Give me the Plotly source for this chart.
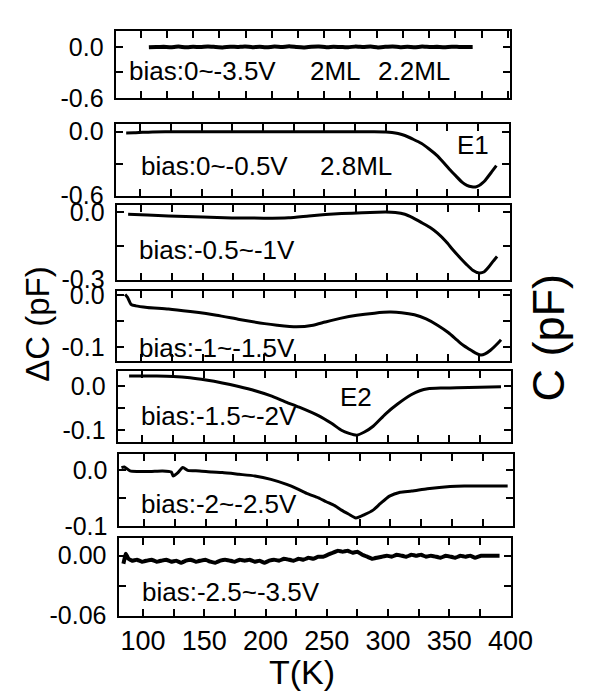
import plotly.graph_objects as go

W, H = 589, 694

# ---------------- data (T in K, dC in pF) ----------------
p1_T = [107, 113, 119, 125, 131, 137, 143, 149, 155, 161, 167, 173, 179, 185, 191, 197, 203, 209, 215, 221,
        227, 233, 239, 245, 251, 257, 263, 269, 275, 281, 287, 293, 299, 305, 311, 317, 323, 329, 335, 341,
        347, 353, 359, 365, 370]
p1_dC = [-0.005, -0.002, 0.0, -0.004, 0.003, -0.006, 0.001, -0.003, 0.004, -0.002, -0.007, 0.002, -0.001, 0.005,
         -0.004, 0.0, -0.006, 0.003, -0.002, 0.006, -0.003, -0.008, 0.001, 0.004, -0.005, 0.002, -0.001, -0.006,
         0.005, -0.002, 0.003, -0.007, 0.0, 0.004, -0.004, 0.001, -0.005, 0.003, -0.002, 0.0, -0.004, 0.002,
         -0.001, -0.003, -0.002]

p2_T = [88.6, 95, 102, 110, 130, 160, 200, 240, 270, 290, 300, 305, 310, 315.5, 322, 328.8, 335, 342, 347,
        352, 357, 362, 366, 370, 373, 376, 379, 381, 386, 390]
p2_dC = [-0.012, -0.011, -0.006, -0.002, 0.0, 0.0, 0.0, 0.0, 0.0, -0.001, -0.003, -0.008, -0.018, -0.036,
         -0.07, -0.109, -0.16, -0.227, -0.29, -0.355, -0.415, -0.473, -0.503, -0.517, -0.518, -0.505, -0.478,
         -0.455, -0.38, -0.318]

p3_T = [89.4, 105, 122.2, 150, 173.9, 200, 220, 236.5, 250, 263.1, 280, 299.1, 307, 314.7, 321, 328, 335,
        341.3, 348, 353.8, 360, 364.8, 370, 375, 379, 382.8, 386, 389.8]
p3_dC = [-0.01, -0.013, -0.017, -0.022, -0.026, -0.027, -0.025, -0.017, -0.011, -0.007, -0.003, 0.0, -0.002,
         -0.01, -0.025, -0.046, -0.068, -0.094, -0.13, -0.167, -0.205, -0.232, -0.258, -0.27, -0.266, -0.245,
         -0.222, -0.197]

p4_T = [87, 89, 91.7, 95.6, 105, 122.2, 140, 161.4, 180, 200.5, 210.7, 226.3, 240, 249.8, 262, 275.6, 290,
        302.2, 312, 322.5, 332, 341.3, 350, 357, 362, 367.1, 372, 376.5, 380, 384.4, 389, 393]
p4_dC = [0.001, -0.005, -0.018, -0.021, -0.024, -0.027, -0.032, -0.039, -0.047, -0.055, -0.058, -0.061,
         -0.058, -0.052, -0.045, -0.039, -0.035, -0.033, -0.034, -0.038, -0.046, -0.058, -0.072, -0.086,
         -0.096, -0.104, -0.111, -0.115, -0.113, -0.106, -0.096, -0.086]

p5_T = [89.4, 100, 112, 125.4, 139, 152, 165.3, 178.6, 192, 204.4, 217.7, 227.9, 243.5, 254.5, 262.3, 268.5,
        274.8, 281, 288.1, 298.3, 308, 319.4, 326, 332.7, 345, 356.2, 375, 392.2]
p5_dC = [0.022, 0.022, 0.022, 0.021, 0.018, 0.013, 0.0065, -0.0015, -0.011, -0.022, -0.037, -0.048, -0.067,
         -0.085, -0.1, -0.107, -0.111, -0.104, -0.091, -0.063, -0.041, -0.0196, -0.011, -0.0065, -0.005,
         -0.0043, -0.003, -0.002]

p6_T = [81.6, 84, 88.6, 95, 105, 115, 122.1, 123.7, 127, 131.5, 135.4, 145, 155, 163.5, 177, 190, 203, 215.8,
        223.6, 232, 241.6, 248, 254.8, 260.3, 266, 272, 279, 286, 292, 299.3, 308, 317.3, 330, 348.5, 360, 395.3]
p6_dC = [0.004, 0.005, -0.002, -0.003, -0.003, -0.002, -0.004, -0.011, -0.006, 0.004, -0.001, -0.002, -0.004,
         -0.005, -0.008, -0.011, -0.017, -0.026, -0.033, -0.042, -0.05, -0.057, -0.064, -0.072, -0.079, -0.086,
         -0.08, -0.072, -0.06, -0.047, -0.04, -0.038, -0.034, -0.03, -0.029, -0.029]

p7_T = [84, 86, 88, 91, 95, 99, 103, 107, 111, 115, 119, 123, 127, 131, 135, 139, 143, 147, 151, 155, 159, 163,
        167, 171, 175, 179, 183, 187, 191, 195, 199, 203, 207, 211, 215, 219, 223, 227, 231, 235, 239, 243, 247,
        251, 255, 259, 263, 267, 271, 275, 279, 283, 287, 291, 295, 299, 303, 307, 311, 315, 319, 323, 327, 331,
        335, 339, 343, 347, 351, 355, 359, 363, 367, 371, 376, 391]
p7_dC = [-0.008, 0.002, -0.003, -0.005, -0.004, -0.006, -0.005, -0.004, -0.006, -0.005, -0.004, -0.006, -0.005,
         -0.007, -0.005, -0.004, -0.006, -0.005, -0.004, -0.006, -0.007, -0.005, -0.004, -0.005, -0.006, -0.004,
         -0.005, -0.004, -0.006, -0.005, -0.007, -0.005, -0.004, -0.005, -0.003, -0.004, -0.005, -0.003, -0.004,
         -0.002, -0.003, -0.001, -0.001, 0.001, 0.003, 0.005, 0.004, 0.005, 0.003, 0.004, 0.001, -0.001, -0.003,
         -0.002, -0.001, 0.0, -0.001, 0.001, 0.0, -0.001, 0.001, 0.0, 0.001, -0.001, 0.0, -0.001, -0.002, 0.0,
         -0.001, -0.002, 0.0, -0.001, 0.0, -0.002, 0.0, 0.0]

series_T = [p1_T, p2_T, p3_T, p4_T, p5_T, p6_T, p7_T]
series_dC = [p1_dC, p2_dC, p3_dC, p4_dC, p5_dC, p6_dC, p7_dC]
for a, b in zip(series_T, series_dC):
    assert len(a) == len(b), (len(a), len(b))

y_ranges = [[-0.6, 0.19], [-0.6, 0.07], [-0.3, 0.03], [-0.126, 0.007], [-0.126, 0.0326], [-0.1, 0.0276],
            [-0.06, 0.0174]]
y_tickvals = [[0, -0.3, -0.6], [0, -0.3, -0.6], [0, -0.15, -0.3], [0, -0.05, -0.1], [0, -0.05, -0.1],
              [0, -0.05, -0.1], [0, -0.03, -0.06]]
y_ticktext = [["0.0", "", "-0.6"], ["0.0", "", "-0.6"], ["0.0", "", "-0.3"], ["0.0", "", "-0.1"],
              ["0.0", "", "-0.1"], ["0.0", "", "-0.1"], ["0.00", "", "-0.06"]]
bias_labels = ["bias:0~-3.5V", "bias:0~-0.5V", "bias:-0.5~-1V", "bias:-1~-1.5V", "bias:-1.5~-2V",
               "bias:-2~-2.5V", "bias:-2.5~-3.5V"]
x_tickvals = [100, 125, 150, 175, 200, 225, 250, 275, 300, 325, 350, 375, 400]
x_ticktext = ["100", "", "150", "", "200", "", "250", "", "300", "", "350", "", "400"]

# ---------------- layout geometry (pixels) ----------------
x_dom_px = [(112, 522), (112, 521), (113, 522), (113, 522), (114, 523), (116, 526), (115, 523)]
y_dom_px = [(13, 83), (110, 184), (194, 271), (283, 355), (366, 439), (452, 526), (539, 619)]
label_pos = [(202, 55), (215, 153), (218, 240), (217, 342), (220, 412), (220, 503), (232, 595)]

FONT = "Liberation Sans, Arial, Helvetica, sans-serif"
fig = go.Figure()
layout = dict(width=W, height=H, margin=dict(l=0, r=0, t=0, b=0), paper_bgcolor="white",
              plot_bgcolor="white", showlegend=False, font=dict(family=FONT, color="black"))
annotations = []

for i in range(7):
    n = i + 1
    xa = "x" if n == 1 else f"x{n}"
    ya = "y" if n == 1 else f"y{n}"
    lw = 4 if i in (0, 6) else 3
    fig.add_trace(go.Scatter(x=series_T[i], y=series_dC[i], mode="lines", xaxis=xa, yaxis=ya,
                             line=dict(color="black", width=lw, shape="spline",
                                       smoothing=0.6 if i not in (0, 6) else 0.2),
                             hoverinfo="skip"))
    x0, x1 = x_dom_px[i]
    y0, y1 = y_dom_px[i]
    xkey = "xaxis" if n == 1 else f"xaxis{n}"
    ykey = "yaxis" if n == 1 else f"yaxis{n}"
    xax = dict(domain=[x0 / W, x1 / W], range=[80, 400], anchor=ya, showline=True, linecolor="black",
               linewidth=2, mirror="ticks", ticks="inside", ticklen=7, tickwidth=2, tickcolor="black",
               showgrid=False, zeroline=False, fixedrange=True)
    if i == 0:
        xax.update(tickmode="linear", tick0=100.3, dtick=21.3, showticklabels=False)
    elif i == 6:
        xax.update(tickmode="array", tickvals=x_tickvals, ticktext=x_ticktext, showticklabels=True,
                   tickfont=dict(size=27, family=FONT, color="black"), ticklabelstandoff=0)
    else:
        xax.update(tickmode="array", tickvals=x_tickvals, ticktext=[""] * len(x_tickvals), showticklabels=False)
    yax = dict(domain=[1 - y1 / H, 1 - y0 / H], range=y_ranges[i], anchor=xa, showline=True,
               linecolor="black", linewidth=2, mirror="ticks", ticks="inside", ticklen=7, tickwidth=2,
               tickcolor="black", showgrid=False, zeroline=False, tickmode="array", tickvals=y_tickvals[i],
               ticktext=y_ticktext[i], tickfont=dict(size=25, family=FONT, color="black"),
               ticklabelstandoff=5, fixedrange=True)
    layout[xkey] = xax
    layout[ykey] = yax
    lx, ly = label_pos[i]
    annotations.append(dict(x=lx / W, y=1 - ly / H, xref="paper", yref="paper", text=bias_labels[i],
                            showarrow=False, xanchor="center", yanchor="middle",
                            font=dict(size=26, family=FONT, color="black")))

extra = [("2ML", 341, 55, 26), ("2.2ML", 422, 55, 26), ("2.8ML", 362, 153, 26), ("E1", 484, 132, 26),
         ("E2", 362, 393, 26)]
for t, px, py, fs in extra:
    annotations.append(dict(x=px / W, y=1 - py / H, xref="paper", yref="paper", text=t, showarrow=False,
                            xanchor="center", yanchor="middle", font=dict(size=fs, family=FONT, color="black")))

annotations.append(dict(x=30 / W, y=1 - 317 / H, xref="paper", yref="paper", text="ΔC (pF)", textangle=-90,
                        showarrow=False, xanchor="center", yanchor="middle",
                        font=dict(size=33, family=FONT, color="black")))
annotations.append(dict(x=563 / W, y=1 - 331 / H, xref="paper", yref="paper", text="C (pF)", textangle=-90,
                        showarrow=False, xanchor="center", yanchor="middle",
                        font=dict(size=45, family=FONT, color="black")))
annotations.append(dict(x=306 / W, y=1 - 674 / H, xref="paper", yref="paper", text="T(K)", showarrow=False,
                        xanchor="center", yanchor="top", yshift=18,
                        font=dict(size=34, family=FONT, color="black")))

layout["annotations"] = annotations
fig.update_layout(**layout)
fig.write_html("out.html")
